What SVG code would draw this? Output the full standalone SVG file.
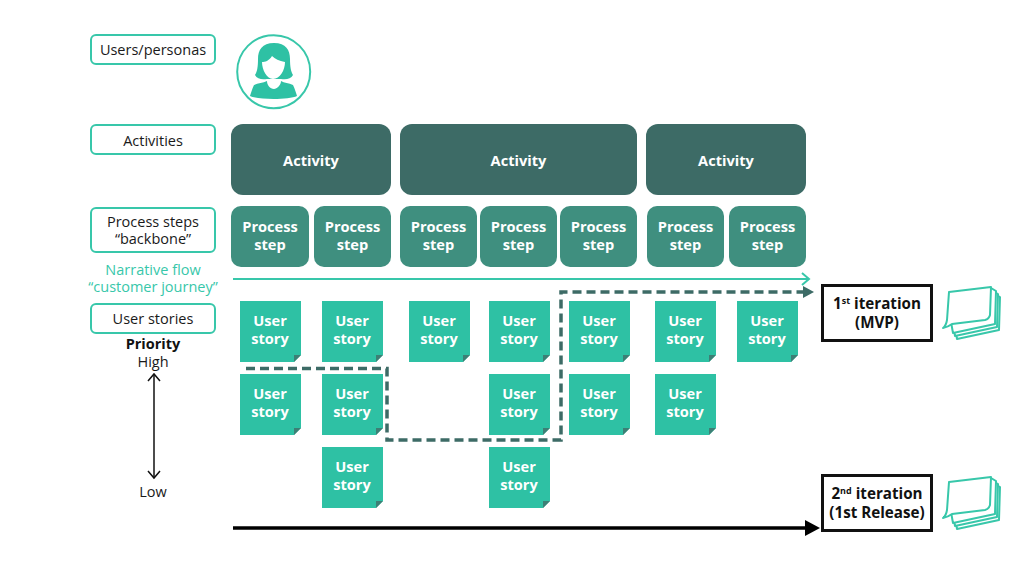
<svg xmlns="http://www.w3.org/2000/svg" width="1030" height="579" viewBox="0 0 1030 579">
<style>
text{font-family:"Open Sans","Noto Sans","DejaVu Sans",sans-serif;text-anchor:middle}
.lb{fill:#fff;stroke:#38c7aa;stroke-width:2}
.lt{font-size:14.5px;fill:#1a1a1a}
.wt{font-size:14.6px;font-weight:700;fill:#fff}
.bt{font-size:15.2px;font-weight:700;fill:#111}
.pr{font-size:14.5px;font-weight:700;fill:#111}
.nt{font-size:14.5px;fill:#38c7aa}
.act{fill:#3d6b66}
.ps{fill:#3f8f7f}
.it{fill:#fff;stroke:#111;stroke-width:3}
.sh{fill:#fff;stroke:#38c7aa;stroke-width:2;stroke-linejoin:round}
</style>
<defs>
<g id="story">
<path d="M0 0H61V54L54 61H0Z" fill="#2ec1a4"/>
<path d="M61 54H54V61Z" fill="#3d7f75"/>
<text class="wt" x="30" y="25">User</text>
<text class="wt" x="30" y="43">story</text>
</g>
<g id="stack">
<path class="sh" d="M8 30L12 52L54 43L55 10L48 6Z"/>
<path class="sh" d="M6 27L10 49L52 40L53 7L46 3Z"/>
<path class="sh" d="M4 24L8 46L50 37L51 4L46 1Z"/>
<path class="sh" d="M4 5L46 0L45 28Q44 32 40 33L7 37Q3 40 -2 41Q1 39 2 33Z"/>
</g>
</defs>
<rect width="1030" height="579" fill="#fff"/>
<g id="label-users"><rect class="lb" x="91" y="35" width="124" height="29" rx="5"/><text class="lt" x="153" y="55">Users/personas</text></g>
<g id="label-activities"><rect class="lb" x="91" y="125" width="124" height="29" rx="5"/><text class="lt" x="153" y="146">Activities</text></g>
<g id="label-steps"><rect class="lb" x="91" y="208" width="124" height="44" rx="5"/><text class="lt" x="153" y="227">Process steps</text><text class="lt" x="153" y="244">“backbone”</text></g>
<g id="label-flow"><text class="nt" x="153" y="275">Narrative flow</text><text class="nt" x="153" y="292">“customer journey”</text></g>
<g id="label-stories"><rect class="lb" x="91" y="304" width="124" height="29" rx="5"/><text class="lt" x="153" y="324">User stories</text></g>
<g id="label-priority"><text class="pr" x="153" y="349">Priority</text><text class="lt" x="153" y="367">High</text><text class="lt" x="153" y="497">Low</text></g>
<g id="persona">
<circle cx="273.7" cy="71.7" r="36.500" fill="#fff" stroke="#38c7aa" stroke-width="2"/>
<path d="M274 43C262 43 258 50 258 59C258 67 257 72 255 75C257 79 262 80 267 79L281 79C286 80 291 79 293 75C291 72 290 67 290 59C290 50 286 43 274 43Z" fill="#2ec1a4"/>
<path d="M272 56C269 61 265 62 262 62C262 70 267 79 273 79C280 79 285 70 285 62C279 61 275 59 272 56Z" fill="#fff"/>
<path d="M267 81C263 83 258 83 254 85C252 89 251 93 250 96C258 100 289 100 297 96C296 93 295 89 293 85C289 83 284 83 281 81C281 85 277 89 274 89C270 89 267 85 267 81Z" fill="#2ec1a4"/>
</g>
<g id="activity-1"><rect class="act" x="231" y="124" width="160" height="71" rx="12"/><text class="wt" x="311" y="166">Activity</text></g>
<g id="activity-2"><rect class="act" x="400" y="124" width="237" height="71" rx="12"/><text class="wt" x="518.500" y="166">Activity</text></g>
<g id="activity-3"><rect class="act" x="646" y="124" width="160" height="71" rx="12"/><text class="wt" x="726" y="166">Activity</text></g>
<g id="step-1"><rect class="ps" x="231" y="206" width="78" height="61" rx="10"/><text class="wt" x="270" y="232">Process</text><text class="wt" x="270" y="250">step</text></g>
<g id="step-2"><rect class="ps" x="314" y="206" width="77" height="61" rx="10"/><text class="wt" x="352.500" y="232">Process</text><text class="wt" x="352.500" y="250">step</text></g>
<g id="step-3"><rect class="ps" x="400" y="206" width="77" height="61" rx="10"/><text class="wt" x="438.500" y="232">Process</text><text class="wt" x="438.500" y="250">step</text></g>
<g id="step-4"><rect class="ps" x="480" y="206" width="77" height="61" rx="10"/><text class="wt" x="518.500" y="232">Process</text><text class="wt" x="518.500" y="250">step</text></g>
<g id="step-5"><rect class="ps" x="560" y="206" width="77" height="61" rx="10"/><text class="wt" x="598.500" y="232">Process</text><text class="wt" x="598.500" y="250">step</text></g>
<g id="step-6"><rect class="ps" x="647" y="206" width="77" height="61" rx="10"/><text class="wt" x="685.500" y="232">Process</text><text class="wt" x="685.500" y="250">step</text></g>
<g id="step-7"><rect class="ps" x="729" y="206" width="77" height="61" rx="10"/><text class="wt" x="767.500" y="232">Process</text><text class="wt" x="767.500" y="250">step</text></g>
<g id="stories">
<use id="story-1-1" href="#story" x="240" y="301"/>
<use id="story-1-2" href="#story" x="322" y="301"/>
<use id="story-1-3" href="#story" x="409" y="301"/>
<use id="story-1-4" href="#story" x="489" y="301"/>
<use id="story-1-5" href="#story" x="569" y="301"/>
<use id="story-1-6" href="#story" x="655" y="301"/>
<use id="story-1-7" href="#story" x="737" y="301"/>
<use id="story-2-1" href="#story" x="240" y="374"/>
<use id="story-2-2" href="#story" x="322" y="374"/>
<use id="story-2-4" href="#story" x="489" y="374"/>
<use id="story-2-5" href="#story" x="569" y="374"/>
<use id="story-2-6" href="#story" x="655" y="374"/>
<use id="story-3-2" href="#story" x="322" y="447"/>
<use id="story-3-4" href="#story" x="489" y="447"/>
</g>
<g id="connectors" fill="none">
<path d="M233 279H809" stroke="#38c7aa" stroke-width="2"/>
<path d="M802 273L809 279L802 285" stroke="#38c7aa" stroke-width="2"/>
<path d="M246 368.500H387V440H561V292H803" stroke="#3d6b66" stroke-width="3.500" stroke-dasharray="9 5"/>
<path d="M803 286L814 292L803 298Z" fill="#3d6b66"/>
<path d="M233 528H806" stroke="#000" stroke-width="3.500"/>
<path d="M805 520L820 528L805 536Z" fill="#000"/>
<path d="M154 374V478" stroke="#111" stroke-width="1.500"/>
<path d="M148 381L154 374L160 381M148 471L154 478L160 471" stroke="#111" stroke-width="1.500"/>
</g>
<g id="iteration-1"><rect class="it" x="822.500" y="285.500" width="109" height="55"/><text class="bt" x="877" y="309"><tspan>1</tspan><tspan font-size="9" dy="-5">st</tspan><tspan dy="5"> iteration</tspan></text><text class="bt" x="877" y="328">(MVP)</text></g>
<g id="iteration-2"><rect class="it" x="822.500" y="475.500" width="109" height="55"/><text class="bt" x="877" y="499"><tspan>2</tspan><tspan font-size="9" dy="-5">nd</tspan><tspan dy="5"> iteration</tspan></text><text class="bt" x="877" y="518">(1st Release)</text></g>
<g id="stack-1" transform="translate(945,287)"><use href="#stack"/></g>
<g id="stack-2" transform="translate(945,477)"><use href="#stack"/></g>
</svg>
